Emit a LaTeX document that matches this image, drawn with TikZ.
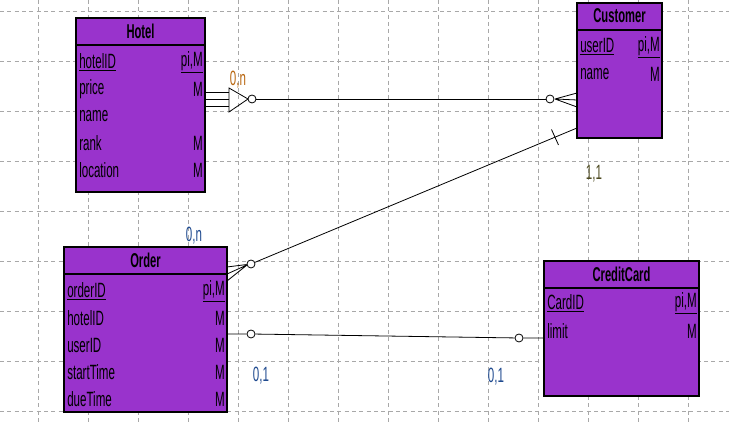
\documentclass[tikz,border=0pt]{standalone}
\usepackage{fontspec}
\setmainfont[FakeStretch=0.56]{Liberation Sans}
\usetikzlibrary{fit}
\definecolor{entfill}{HTML}{9933CC}
\definecolor{gridc}{HTML}{A8A8A8}
\definecolor{cardblue}{HTML}{1F4A8F}
\definecolor{cardorange}{HTML}{B8660F}
\definecolor{cardolive}{HTML}{4D4A20}
\tikzset{
  ent/.style={draw=black, line width=1.2pt, fill=entfill, inner sep=0pt},
  ttl/.style={font=\fontsize{15}{15}\selectfont\bfseries, inner sep=0pt, anchor=center},
  attl/.style={font=\fontsize{15.5}{15.5}\selectfont, inner sep=0pt, anchor=west},
  attr/.style={font=\fontsize{15.5}{15.5}\selectfont, inner sep=0pt, anchor=east},
  card/.style={font=\fontsize{15.5}{15.5}\selectfont, inner sep=0pt, anchor=center},
  circ/.style={draw=black, fill=white, circle, minimum size=6pt, inner sep=0pt, line width=0.6pt},
  conn/.style={draw=black, line width=0.6pt},
  gridl/.style={draw=gridc, line width=0.7pt, dash pattern=on 3pt off 2.5pt},
}
\newcommand{\entity}[6]{% name, title, x1,y1,x2,y2
  \node[ent, fit={(#3,#4) (#5,#6)}] (#1) {};
  \draw[line width=0.8pt] (#3,#4+27) -- (#5,#4+27);
  \node[ttl] at ({(#3+#5)/2},#4+13) {#2};
}
\begin{document}
\begin{tikzpicture}[x=0.75pt,y=-0.75pt]
\useasboundingbox (0,0) rectangle (729,423);
% grid
\foreach \gx in {38,88,...,738} {\draw[gridl] (\gx,0) -- (\gx,423);}
\foreach \gy in {11,61,...,411} {\draw[gridl] (0,\gy) -- (729,\gy);}

% Hotel
\entity{hotel}{Hotel}{76}{18}{205}{192}
\node[attl] (h1) at (79,62) {\underline{hotelID}};
\node[attr] (h1r) at (203,62) {\underline{pi,M}};
\node[attl] (h2) at (79,89) {price};
\node[attr] (h2r) at (203,89) {M};
\node[attl] (h3) at (79,116) {name};
\node[attl] (h4) at (79,143) {rank};
\node[attr] (h4r) at (203,143) {M};
\node[attl] (h5) at (79,170) {location};
\node[attr] (h5r) at (203,170) {M};

% Customer
\entity{cust}{Customer}{577}{3}{662}{138}
\node[attl] (u1) at (580,47) {\underline{userID}};
\node[attr] (u1r) at (660,47) {\underline{pi,M}};
\node[attl] (u2) at (580,74) {name};
\node[attr] (u2r) at (660,74) {M};

% Order
\entity{order}{Order}{64}{247}{227}{412}
\node[attl] (o1) at (67,291) {\underline{orderID}};
\node[attr] (o1r) at (225,291) {\underline{pi,M}};
\node[attl] (o2) at (67,318) {hotelID};
\node[attr] (o2r) at (225,318) {M};
\node[attl] (o3) at (67,345) {userID};
\node[attr] (o3r) at (225,345) {M};
\node[attl] (o4) at (67,372) {startTime};
\node[attr] (o4r) at (225,372) {M};
\node[attl] (o5) at (67,399) {dueTime};
\node[attr] (o5r) at (225,399) {M};

% CreditCard
\entity{cc}{CreditCard}{544}{261}{699}{396}
\node[attl] (k1) at (547,303) {\underline{CardID}};
\node[attr] (k1r) at (697,303) {\underline{pi,M}};
\node[attl] (k2) at (547,331) {limit};
\node[attr] (k2r) at (697,331) {M};

% ---- Hotel -- Customer
\coordinate (ha) at (205,92);
\coordinate (hb) at (205,99);
\coordinate (hc) at (205,106);
\coordinate (ta) at (229,92);
\coordinate (tb) at (229,99);
\coordinate (tc) at (229,106);
\draw[conn] (ha) -- (ta) (hb) -- (tb) (hc) -- (tc);
\coordinate (tt) at (229,88);
\coordinate (tbot) at (229,112);
\coordinate (tap) at (248,99);
\draw[conn] (tt) -- (tbot) -- (tap) -- cycle;
\node[circ] (c1) at (252,99) {};
\node[circ] (c2) at (550,99) {};
\coordinate (cf) at (555,99);
\coordinate (ca) at (577,93);
\coordinate (cb) at (577,100);
\coordinate (cc1) at (577,107);
\draw[conn] (c1) -- (c2);
\draw[conn] (cf) -- (ca) (cf) -- (cb) (cf) -- (cc1);
\node[card, text=cardorange] (l1) at (238,80) {0,n};

% ---- Customer -- Order
\coordinate (cu) at (577,128);
\node[circ] (c3) at (251,264) {};
\draw[conn] (cu) -- (c3);
\coordinate (tk1) at (551.5,129.5);
\coordinate (tk2) at (558.5,145);
\draw[conn] (tk1) -- (tk2);
\coordinate (of) at (247,265);
\coordinate (oa) at (227,267);
\coordinate (ob) at (227,274);
\coordinate (oc) at (227,281);
\draw[conn] (c3) -- (oa) (of) -- (ob) (of) -- (oc);
\node[card, text=cardolive] (l2) at (594,174) {1,1};
\node[card, text=cardblue] (l3) at (194,236) {0,n};

% ---- Order -- CreditCard
\coordinate (oo) at (227,334);
\node[circ] (c4) at (251,334) {};
\node[circ] (c5) at (519,338) {};
\coordinate (ck) at (544,338);
\draw[conn] (oo) -- (c4) -- (c5) -- (ck);
\node[card, text=cardblue] (l4) at (261,376) {0,1};
\node[card, text=cardblue] (l5) at (496,377) {0,1};
\end{tikzpicture}
\end{document}
